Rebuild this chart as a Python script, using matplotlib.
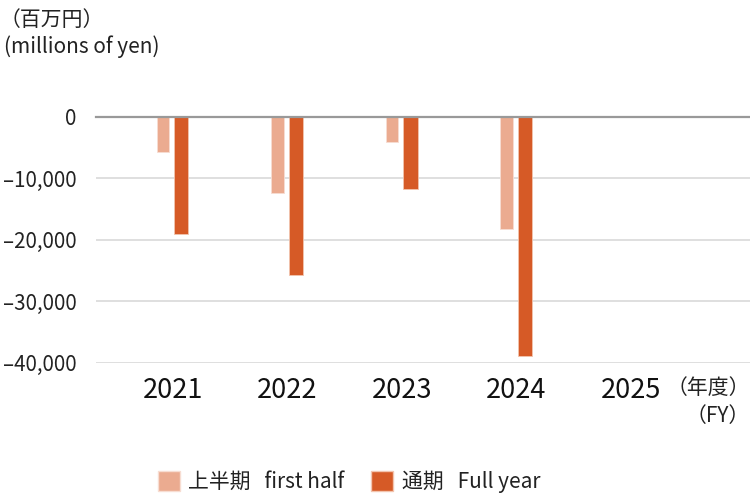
import matplotlib.pyplot as plt
import numpy as np
from matplotlib.patches import Patch

plt.rcParams['font.family'] = ['Noto Sans CJK JP', 'DejaVu Sans']

years = ['2021', '2022', '2023', '2024', '2025']
first_half = [-5700, -12400, -4100, -18300, np.nan]
full_year = [-19100, -25800, -11800, -38900, np.nan]
yticks = [0, -10000, -20000, -30000, -40000]
ytick_labels = ['0', '–10,000', '–20,000', '–30,000', '–40,000']

c_half = '#ebab90'
c_full = '#d65a26'

fig = plt.figure(figsize=(7.5, 5), dpi=100)
ax = fig.add_axes([96 / 750, 1 - 362.7 / 500, 1 - 96 / 750, (362.7 - 116.7) / 500])

x = np.arange(len(years))
ax.bar(x - 0.085, first_half, width=0.108, color=c_half, edgecolor='#f7ddd2', linewidth=0.6, zorder=3)
ax.bar(x + 0.075, full_year, width=0.124, color=c_full, edgecolor='#f2c4ae', linewidth=0.6, zorder=3)

ax.set_xlim(-0.67, 5.04)
ax.set_ylim(-40000, 0)
ax.set_yticks(yticks)
ax.set_yticklabels(ytick_labels, fontsize=14.8, color='#222222')
ax.set_xticks(x)
ax.set_xticklabels(years, fontsize=19.5, color='#111111')
ax.tick_params(axis='y', length=0, pad=14)
ax.tick_params(axis='x', length=0, pad=10)

ax.grid(axis='y', color='#d9d9d9', linewidth=1.2, zorder=0)
ax.axhline(0, color='#999999', linewidth=1.6, zorder=4, clip_on=False)
for s in ax.spines.values():
    s.set_visible(False)

fig.text(0, 1 - 20 / 500, '（百万円）', fontsize=15, va='center', ha='left', color='#222222')
fig.text(4 / 750, 1 - 47 / 500, '(millions of yen)', fontsize=15, va='center', ha='left', color='#222222')
fig.text(1, 1 - 388 / 500, '（年度）', fontsize=15, va='center', ha='right', color='#222222')
fig.text(1, 1 - 416 / 500, '（FY）', fontsize=15, va='center', ha='right', color='#222222')

handles = [Patch(facecolor=c_half, edgecolor='#f7ddd2'), Patch(facecolor=c_full, edgecolor='#f2c4ae')]
fig.legend(handles, ['上半期   first half', '通期   Full year'], loc='center', bbox_to_anchor=(349 / 750, 1 - 482 / 500),
           ncol=2, frameon=False, fontsize=15, handlelength=1.05, handleheight=1.05,
           handletextpad=0.4, columnspacing=1.3, labelcolor='#222222')

fig.savefig('out.png', dpi=100)
